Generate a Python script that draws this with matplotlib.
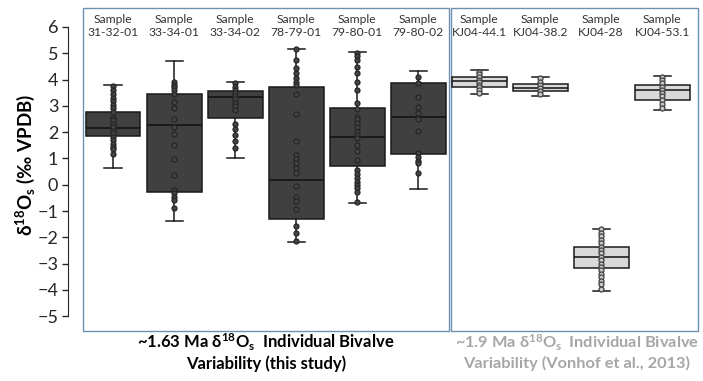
import numpy as np
import matplotlib.pyplot as plt
from matplotlib.patches import Rectangle

plt.rcParams['font.family'] = ['Lato', 'DejaVu Sans']
plt.rcParams['mathtext.fontset'] = 'custom'
plt.rcParams['mathtext.rm'] = 'Lato'
plt.rcParams['mathtext.bf'] = 'Lato:bold'
plt.rcParams['mathtext.it'] = 'Lato:italic'

# sample names (first 6 = this study, last 4 = Vonhof et al., 2013)
samples = ["31-32-01", "33-34-01", "33-34-02", "78-79-01", "79-80-01", "79-80-02",
           "KJ04-44.1", "KJ04-38.2", "KJ04-28", "KJ04-53.1"]
n_this = 6

# box statistics (per mil VPDB)
whis_hi = [3.80, 4.69, 3.90, 5.17, 5.06, 4.32, 4.36, 4.10, -1.68, 4.12]
q3 = [2.76, 3.44, 3.57, 3.73, 2.92, 3.88, 4.10, 3.84, -2.36, 3.80]
med = [2.14, 2.26, 3.35, 0.18, 1.80, 2.59, 3.94, 3.67, -2.74, 3.59]
q1 = [1.84, -0.29, 2.55, -1.32, 0.72, 1.17, 3.73, 3.55, -3.18, 3.22]
whis_lo = [0.62, -1.39, 1.03, -2.17, -0.68, -0.16, 3.44, 3.38, -4.04, 2.84]

# individual measurements
pts_31_32_01 = [3.75, 3.6, 3.45, 3.3, 3.2, 3.05, 2.9, 2.75, 2.55, 2.45, 2.3, 2.2,
                2.05, 1.95, 1.8, 1.7, 1.55, 1.45, 1.35, 1.15]
pts_33_34_01 = [3.92, 3.8, 3.7, 3.6, 3.45, 3.16, 2.9, 2.5, 2.21, 1.92, 1.5, 0.99,
                0.36, -0.2, -0.33, -0.45, -0.58, -0.9]
pts_33_34_02 = [3.85, 3.73, 3.6, 3.5, 3.37, 3.25, 3.12, 2.99, 2.84, 2.31, 2.1,
                1.89, 1.67, 1.38]
pts_78_79_01 = [5.15, 4.74, 4.43, 4.24, 4.05, 3.92, 3.79, 3.45, 2.69, 1.67, 1.13,
                0.97, 0.81, 0.62, 0.43, -0.04, -0.46, -0.61, -0.94, -1.57, -1.85,
                -2.14]
pts_79_80_01 = [5.0, 4.89, 4.76, 4.48, 4.23, 3.92, 3.62, 3.09, 2.87, 2.59, 2.49,
                2.33, 2.18, 2.02, 1.89, 1.76, 1.51, 1.28, 0.94, 0.56, 0.41, 0.24,
                0.11, -0.01, -0.14, -0.27, -0.65]
pts_79_80_02 = [4.08, 3.85, 3.32, 2.94, 2.71, 2.48, 2.04, 1.22, 1.04, 0.90, 0.81,
                0.46]
pts_kj04_44_1 = [4.30, 4.2, 4.1, 4.0, 3.9, 3.8, 3.7, 3.6, 3.48]
pts_kj04_38_2 = [4.05, 3.92, 3.8, 3.68, 3.56, 3.44]
pts_kj04_28 = [-1.7, -1.83, -1.96, -2.09, -2.22, -2.35, -2.48, -2.61, -2.74,
               -2.87, -3.0, -3.13, -3.26, -3.39, -3.52, -3.65, -3.78, -3.95]
pts_kj04_53_1 = [4.1, 3.98, 3.85, 3.72, 3.6, 3.48, 3.36, 3.22, 3.08, 2.92]
points = [pts_31_32_01, pts_33_34_01, pts_33_34_02, pts_78_79_01, pts_79_80_01,
          pts_79_80_02, pts_kj04_44_1, pts_kj04_38_2, pts_kj04_28, pts_kj04_53_1]

dark = '#404040'
light = '#d9d9d9'
frame = '#6f8fb0'

fig = plt.figure(figsize=(7.03, 3.81), dpi=100)
ax = fig.add_axes([68 / 703, 1 - 332 / 381, (700 - 68) / 703, (332 - 7.2) / 381])

stats = []
for i in range(len(samples)):
    stats.append(dict(label=samples[i], whislo=whis_lo[i], q1=q1[i], med=med[i],
                      q3=q3[i], whishi=whis_hi[i], fliers=[]))

pos = np.arange(len(samples))
for i in range(len(samples)):
    fc = dark if i < n_this else light
    ax.bxp([stats[i]], positions=[pos[i]], widths=0.9, patch_artist=True,
           showfliers=False,
           boxprops=dict(facecolor=fc, edgecolor='#1a1a1a', linewidth=1.1),
           medianprops=dict(color='#111111', linewidth=1.1),
           whiskerprops=dict(color='#1a1a1a', linewidth=1.1),
           capprops=dict(color='#1a1a1a', linewidth=1.1), capwidths=0.28)
    mfc = '#444444' if i < n_this else '#c8c8c8'
    mec = '#262626' if i < n_this else '#404040'
    ax.plot(np.full(len(points[i]), pos[i]), points[i], 'o', ms=3.6, mfc=mfc,
            mec=mec, mew=0.9, zorder=4)
    ax.text(pos[i], 6.5, "Sample\n" + samples[i], ha='center', va='top',
            fontsize=8.7, color='#333333', linespacing=1.3)

# panel frames
ax.add_patch(Rectangle((-0.49, -5.55), 6.0, 12.27, fill=False, edgecolor=frame,
                       linewidth=1.0, clip_on=False, zorder=1))
ax.add_patch(Rectangle((5.54, -5.55), 4.05, 12.27, fill=False, edgecolor=frame,
                       linewidth=1.0, clip_on=False, zorder=1))

ax.set_xlim(-0.738, 9.62)
ax.set_ylim(-5.6, 6.75)
for s in ['top', 'right', 'bottom']:
    ax.spines[s].set_visible(False)
ax.spines['left'].set_bounds(-5, 6)
ax.spines['left'].set_color('#262626')
ax.set_xticks([])
ax.set_yticks(np.arange(-5, 7))
ax.tick_params(axis='y', length=4, width=1, colors='#262626', labelsize=13, pad=3)

fig.text(25 / 703, 1 - 165 / 381, r'δ$\mathbf{^{18}}$O$\mathbf{_s}$ (‰ VPDB)',
         rotation=90, ha='center', va='center', fontsize=13.5, fontweight='bold')

fig.text(266 / 703, 1 - 352 / 381,
         '~1.63 Ma δ$\\mathbf{^{18}}$O$\\mathbf{_s}$  Individual Bivalve\nVariability (this study)',
         ha='center', va='center', fontsize=12, fontweight='bold', linespacing=1.2)
fig.text(577 / 703, 1 - 352 / 381,
         '~1.9 Ma δ$\\mathbf{^{18}}$O$\\mathbf{_s}$  Individual Bivalve\nVariability (Vonhof et al., 2013)',
         ha='center', va='center', fontsize=11.8, fontweight='bold', color='#a6a6a6',
         linespacing=1.2)

plt.savefig('out.png', dpi=100)
